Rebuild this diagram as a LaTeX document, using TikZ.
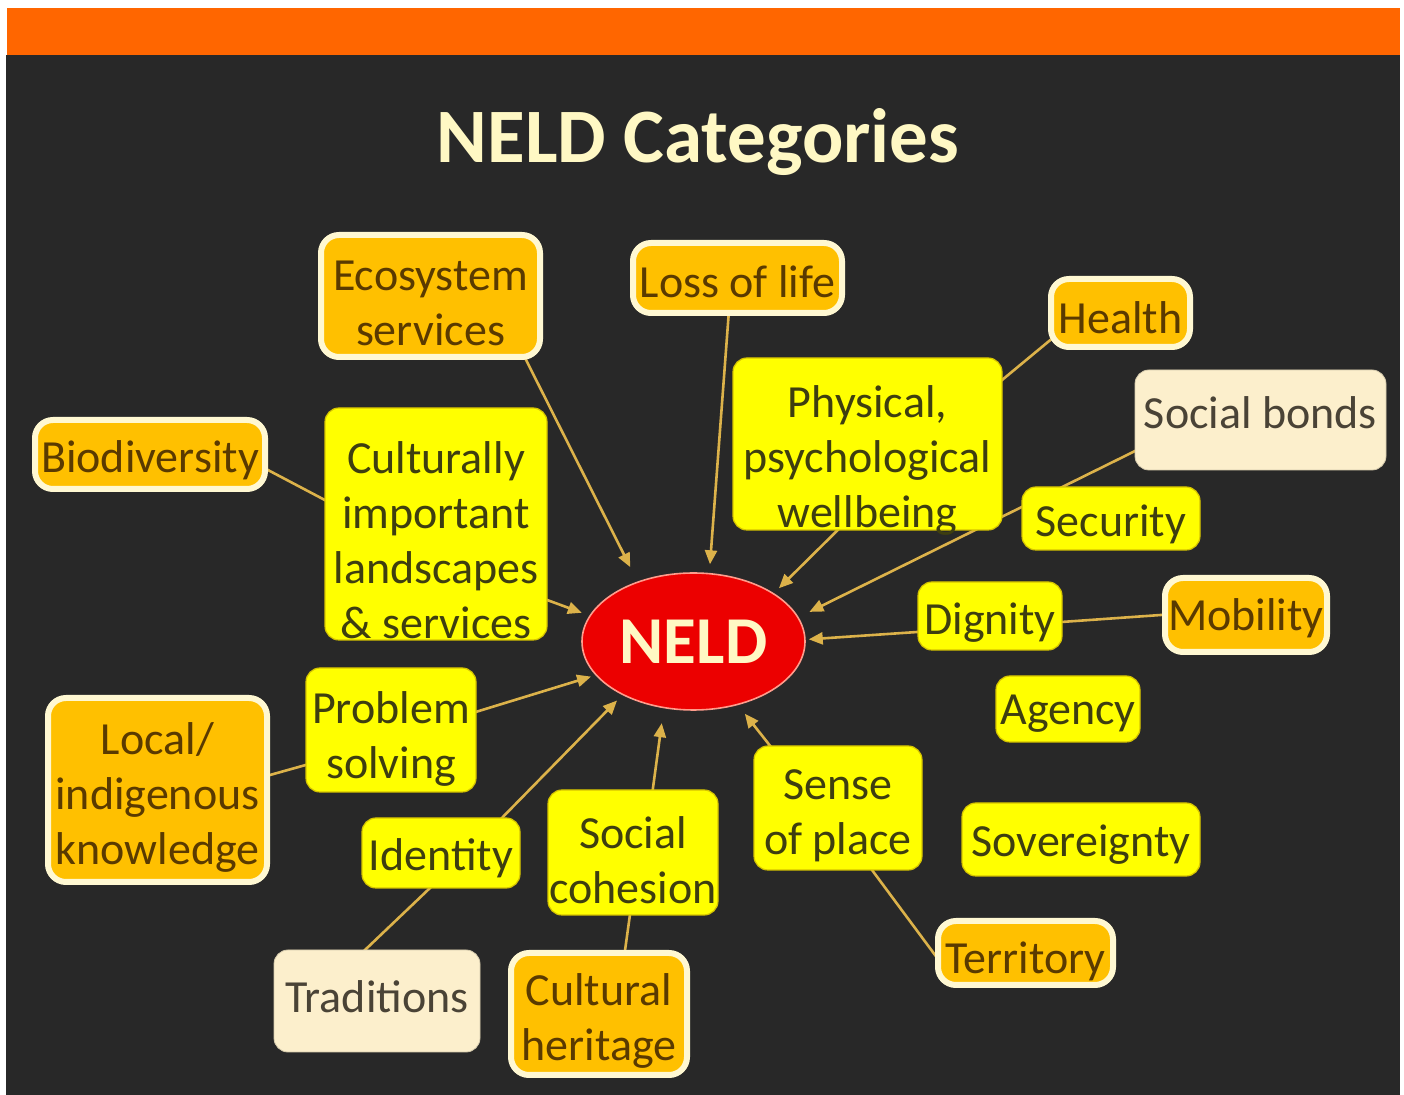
\documentclass[tikz,border=0pt]{standalone}
\usepackage{fontspec}
\setmainfont{Carlito}
\usetikzlibrary{calc,arrows.meta,shapes.geometric}
\definecolor{barorange}{HTML}{FF6600}
\definecolor{darkbg}{HTML}{282828}
\definecolor{orgfill}{HTML}{FFC000}
\definecolor{orgedge}{HTML}{FFF8D2}
\definecolor{orgtxt}{HTML}{5A3A00}
\definecolor{yelfill}{HTML}{FFFF00}
\definecolor{yeledge}{HTML}{D6C400}
\definecolor{yeltxt}{HTML}{3E3E10}
\definecolor{crmfill}{HTML}{FCEFCC}
\definecolor{crmtxt}{HTML}{4A4336}
\definecolor{titletxt}{HTML}{FFF8C4}
\definecolor{neldred}{HTML}{EC0000}
\definecolor{neldedge}{HTML}{FF9C8C}
\definecolor{lineclr}{HTML}{DCB24A}
\pgfdeclarelayer{bglayer}
\pgfdeclarelayer{edgelayer}
\pgfsetlayers{bglayer,edgelayer,main}
\newcommand\catbox[8]{%
  \node[#1, minimum width=#5*0.5pt, minimum height=#6*0.5pt] (#2) at (#3,#4) {};
  \node[#1text] (#2-t) at (#3,#7) {#8};}
\begin{document}
\begin{tikzpicture}[x=0.5pt,y=-0.5pt,
  boxbase/.style={inner sep=0pt, outer sep=0pt},
  org/.style={boxbase, rounded corners=9pt, fill=orgfill, draw=orgedge, line width=3pt},
  yel/.style={boxbase, rounded corners=7pt, fill=yelfill, draw=yeledge, line width=0.6pt},
  crm/.style={boxbase, rounded corners=7pt, fill=crmfill, draw=crmfill!85!black, line width=0.4pt},
  txtbase/.style={inner sep=0pt, align=center, font={\fontsize{23pt}{27.5pt}\selectfont}},
  orgtext/.style={txtbase, text=orgtxt},
  yeltext/.style={txtbase, text=yeltxt},
  crmtext/.style={txtbase, text=crmtxt},
  conn/.style={draw=lineclr, line width=1.3pt},
  arr/.style={conn, -{Triangle[length=7pt,width=6pt]}}]
\useasboundingbox (0,0) rectangle (1404,1095);
\begin{pgfonlayer}{bglayer}
  \fill[white] (0,0) rectangle (1404,1095);
  \fill[barorange] (7,8) rectangle (1400,55.5);
  \fill[darkbg] (6,55.5) rectangle (1400,1095);
\end{pgfonlayer}

\node[text=titletxt, font={\fontsize{38.5pt}{44pt}\selectfont\bfseries}] (title) at (698,142) {NELD Categories};

\node[ellipse, minimum width=223*0.5pt, minimum height=137*0.5pt, inner sep=0pt,
  fill=neldred, draw=neldedge, line width=0.8pt, text=titletxt,
  font={\fontsize{33.5pt}{38pt}\selectfont\bfseries}] (neld) at (693.5,641.5) {NELD};

\catbox{org}{eco}{430.5}{296}{219}{122}{303}{Ecosystem\\services}
\catbox{org}{loss}{737.5}{278}{209}{70}{282}{Loss of life}
\catbox{org}{health}{1120.5}{313}{139}{68}{318}{Health}
\catbox{crm}{bonds}{1260.5}{420}{251}{100}{413}{Social bonds}
\catbox{yel}{phys}{867.5}{444}{269}{172}{460}{Physical,\\psychological\\wellbeing}
\catbox{org}{bio}{150}{454.5}{230}{69}{460}{Biodiversity}
\catbox{yel}{cult}{436}{524}{222}{232}{540}{Culturally\\important\\landscapes\\\& services}
\catbox{yel}{sec}{1111}{518.5}{178}{63}{524}{Security}
\catbox{yel}{dig}{990}{616}{144}{68}{623}{Dignity}
\catbox{org}{mob}{1246}{615}{162}{74}{618}{Mobility}
\catbox{yel}{agency}{1068}{709}{144}{66}{714}{Agency}
\catbox{yel}{prob}{391}{730}{170}{124}{739}{Problem\\solving}
\catbox{org}{local}{157.5}{790}{219}{184}{797}{Local/\\indigenous\\knowledge}
\catbox{yel}{ident}{441}{853}{158}{70}{858}{Identity}
\catbox{yel}{cohes}{633}{852.5}{170}{125}{860}{Social\\cohesion}
\catbox{yel}{sense}{838}{808}{168}{124}{816}{Sense\\of place}
\catbox{yel}{sov}{1081}{839.5}{238}{73}{845}{Sovereignty}
\catbox{org}{terr}{1025.5}{953}{175}{64}{961}{Territory}
\catbox{crm}{trad}{377}{1001}{206}{102}{997}{Traditions}
\catbox{org}{herit}{599}{1014}{176}{122}{1021}{Cultural\\heritage}

\begin{pgfonlayer}{edgelayer}
  % arrows into NELD
  \draw[arr, shorten >=8pt]   ($(eco)+(80.5,34)$)      -- (neld.133.6);
  \draw[arr, shorten >=4.3pt] ($(loss)+(-7,12)$)       -- (neld.77.4);
  \draw[arr, shorten >=3.5pt] ($(phys)+(-9.5,66)$)     -- (neld.31.8);
  \draw[arr, shorten >=6pt]   ($(bonds)+(-100.5,18.7)$) -- (neld.13.1);
  \draw[arr, shorten >=1.5pt] ($(dig)+(-55,14.8)$)     -- (neld.1);
  \draw[arr, shorten >=4pt]   ($(cult)+(94,69.7)$)     -- (neld.166.2);
  \draw[arr, shorten >=2.3pt] ($(prob)+(69,-13.2)$)    -- (neld.199.6);
  \draw[arr, shorten >=3.8pt] ($(ident)+(39,-12.7)$)   -- (neld.217.1);
  \draw[arr, shorten >=7.5pt] ($(cohes)+(17,-42.5)$)   -- (neld.246.9);
  \draw[arr, shorten >=5.5pt] ($(sense)+(-58,-49.6)$)  -- (neld.305.5);
  % plain links
  \draw[conn] ($(health)+(-60.5,19)$) -- ($(phys)+(122.5,-54)$);
  \draw[conn] ($(dig)+(60,6.8)$)      -- ($(mob)+(-71,-1)$);
  \draw[conn] ($(bio)+(105,8.7)$)     -- ($(cult)+(-96,-16)$);
  \draw[conn] ($(local)+(102.5,-12.2)$) -- ($(prob)+(-71,31)$);
  \draw[conn] ($(trad)+(-22,-41.5)$)  -- ($(ident)+(0,24.5)$);
  \draw[conn] ($(herit)+(24,-49)$)    -- ($(cohes)+(-1,47.5)$);
  \draw[conn] ($(terr)+(-75.5,22.2)$) -- ($(sense)+(22,45.8)$);
\end{pgfonlayer}
\end{tikzpicture}
\end{document}
